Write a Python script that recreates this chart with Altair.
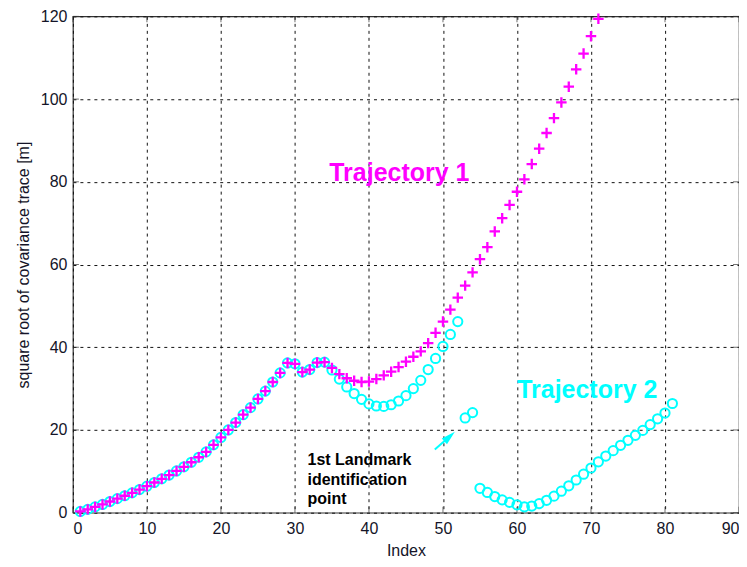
import altair as alt
import pandas as pd

# ---- data ----
traj1_idx = list(range(1, 72))
traj1_val = [0.3, 0.8, 1.4, 2.0, 2.7, 3.4, 4.1, 4.8, 5.6, 6.4,
             7.3, 8.2, 9.1, 10.1, 11.1, 12.2, 13.4, 14.7, 16.4, 18.2,
             20.0, 21.8, 23.7, 25.4, 27.5, 29.4, 31.6, 33.8, 36.2, 36.0,
             34.0, 34.6, 36.3, 36.4, 35.0, 33.5, 32.5, 31.9, 31.6, 31.7,
             32.3, 33.2, 34.1, 35.2, 36.5, 37.7, 39.0, 41.0, 43.5, 46.2,
             49.1, 52.0, 54.9, 58.1, 61.3, 64.2, 68.0, 71.2, 74.4, 77.6,
             80.6, 84.3, 88.0, 91.8, 95.4, 99.2, 103.0, 107.2, 111.0, 115.2,
             119.4]

traj2_idx = list(range(1, 82))
traj2_val = [0.3, 0.8, 1.4, 2.0, 2.7, 3.4, 4.1, 4.8, 5.6, 6.4,
             7.3, 8.2, 9.1, 10.1, 11.1, 12.2, 13.4, 14.7, 16.4, 18.2,
             20.0, 21.8, 23.7, 25.4, 27.5, 29.4, 31.6, 33.8, 36.2, 36.0,
             34.0, 34.6, 36.3, 36.4, 34.5, 32.3, 30.4, 28.8, 27.4, 26.3,
             25.8, 25.7, 26.1, 27.0, 28.3, 30.0, 32.0, 34.6, 37.3, 40.2,
             43.1, 46.2, 22.9, 24.2, 5.9, 4.9, 3.9, 3.1, 2.5, 1.9,
             1.4, 1.6, 2.2, 3.0, 4.0, 5.2, 6.5, 7.9, 9.3, 10.8,
             12.3, 13.7, 15.0, 16.3, 17.5, 18.7, 19.9, 21.3, 22.7, 24.1,
             26.4]

x_ticks = [0, 10, 20, 30, 40, 50, 60, 70, 80, 90]
y_ticks = [0, 20, 40, 60, 80, 100, 120]

label_text = ["Trajectory 1", "Trajectory 2"]
label_x = [44.1, 69.5]
label_y = [82.2, 29.7]
label_color = ["#FF00FF", "#00FFFF"]

note_lines = ["1st Landmark", "identification", "point"]
note_x = [31.7, 31.7, 31.7]
note_y = [12.8, 8.0, 3.3]

arrow_x = [48.9, 50.9]
arrow_y = [15.3, 18.4]

W, H = 667, 497
MAGENTA = "#FF00FF"
CYAN = "#00FFFF"

df1 = pd.DataFrame({"idx": traj1_idx, "val": traj1_val})
df2 = pd.DataFrame({"idx": traj2_idx, "val": traj2_val})
dfx = pd.DataFrame({"t": x_ticks})
dfy = pd.DataFrame({"t": y_ticks})
dfl = pd.DataFrame({"text": label_text, "x": label_x, "y": label_y, "c": label_color})
dfn = pd.DataFrame({"text": note_lines, "x": note_x, "y": note_y})
dfa = pd.DataFrame({"x": arrow_x, "y": arrow_y})
dfh = dfa.tail(1)

xs = alt.Scale(domain=[0, 90], nice=False)
ys = alt.Scale(domain=[0, 120], nice=False)

x_axis = alt.Axis(values=x_ticks, title="Index", grid=True, gridDash=[3, 4],
                  gridColor="#111111", gridOpacity=1, domain=False, ticks=False,
                  labelFont="Liberation Sans", labelFontSize=16, labelColor="#141428",
                  labelPadding=8, titleFont="Liberation Sans", titleFontSize=16,
                  titleFontWeight="normal", titleColor="#141428", titlePadding=6)
y_axis = alt.Axis(values=y_ticks, title="square root of covariance trace [m]", grid=True,
                  gridDash=[3, 4], gridColor="#111111", gridOpacity=1, domain=False,
                  ticks=False, labelFont="Liberation Sans", labelFontSize=16,
                  labelColor="#141428", labelPadding=6, titleFont="Liberation Sans",
                  titleFontSize=16, titleFontWeight="normal", titleColor="#141428",
                  titlePadding=9)

base_grid = alt.Chart(df2).mark_point(opacity=0).encode(
    x=alt.X("idx:Q", scale=xs, axis=x_axis),
    y=alt.Y("val:Q", scale=ys, axis=y_axis),
)

cyan_pts = alt.Chart(df2).mark_point(shape="circle", filled=False, color=CYAN,
                                     size=85, strokeWidth=2, opacity=1).encode(
    x=alt.X("idx:Q", scale=xs), y=alt.Y("val:Q", scale=ys))

plus_path = "M-1,0L1,0M0,-1L0,1"
mag_pts = alt.Chart(df1).mark_point(shape=plus_path, filled=False, color=MAGENTA,
                                    size=110, strokeWidth=2.3, opacity=1).encode(
    x=alt.X("idx:Q", scale=xs), y=alt.Y("val:Q", scale=ys))

labels = alt.Chart(dfl).mark_text(font="Liberation Sans", fontSize=25, fontWeight="bold",
                                  align="center", baseline="middle").encode(
    x=alt.X("x:Q", scale=xs), y=alt.Y("y:Q", scale=ys), text="text:N",
    color=alt.Color("c:N", scale=None))

notes = alt.Chart(dfn).mark_text(font="Liberation Sans", fontSize=16, fontWeight="bold",
                                 align="left", baseline="middle", color="black").encode(
    x=alt.X("x:Q", scale=xs), y=alt.Y("y:Q", scale=ys), text="text:N")

arrow_line = alt.Chart(dfa).mark_line(color=CYAN, strokeWidth=2).encode(
    x=alt.X("x:Q", scale=xs), y=alt.Y("y:Q", scale=ys))
arrow_head = alt.Chart(dfh).mark_point(shape="M0,-1L0.55,1L-0.55,1Z", filled=True,
                                       color=CYAN, size=200, angle=48, opacity=1).encode(
    x=alt.X("x:Q", scale=xs), y=alt.Y("y:Q", scale=ys))

tick_col = "#333333"
bx = alt.Chart(dfx).mark_tick(color=tick_col, thickness=1, size=6, orient="vertical").encode(
    x=alt.X("t:Q", scale=xs), y=alt.value(H - 3))
tx = alt.Chart(dfx).mark_tick(color=tick_col, thickness=1, size=6, orient="vertical").encode(
    x=alt.X("t:Q", scale=xs), y=alt.value(3))
ly = alt.Chart(dfy).mark_tick(color=tick_col, thickness=1, size=6, orient="horizontal").encode(
    y=alt.Y("t:Q", scale=ys), x=alt.value(3))
ry = alt.Chart(dfy).mark_tick(color=tick_col, thickness=1, size=6, orient="horizontal").encode(
    y=alt.Y("t:Q", scale=ys), x=alt.value(W - 3))

chart = alt.layer(base_grid, bx, tx, ly, ry, cyan_pts, mag_pts, labels, notes,
                  arrow_line, arrow_head).properties(
    width=W, height=H,
    autosize=alt.AutoSizeParams(type="none"),
    padding={"left": 65, "top": 8, "right": 0, "bottom": 51},
    background="white",
).configure_view(stroke="#333333", strokeWidth=1.2)

chart.save("out.html", embed_options={"renderer": "svg", "actions": False})
